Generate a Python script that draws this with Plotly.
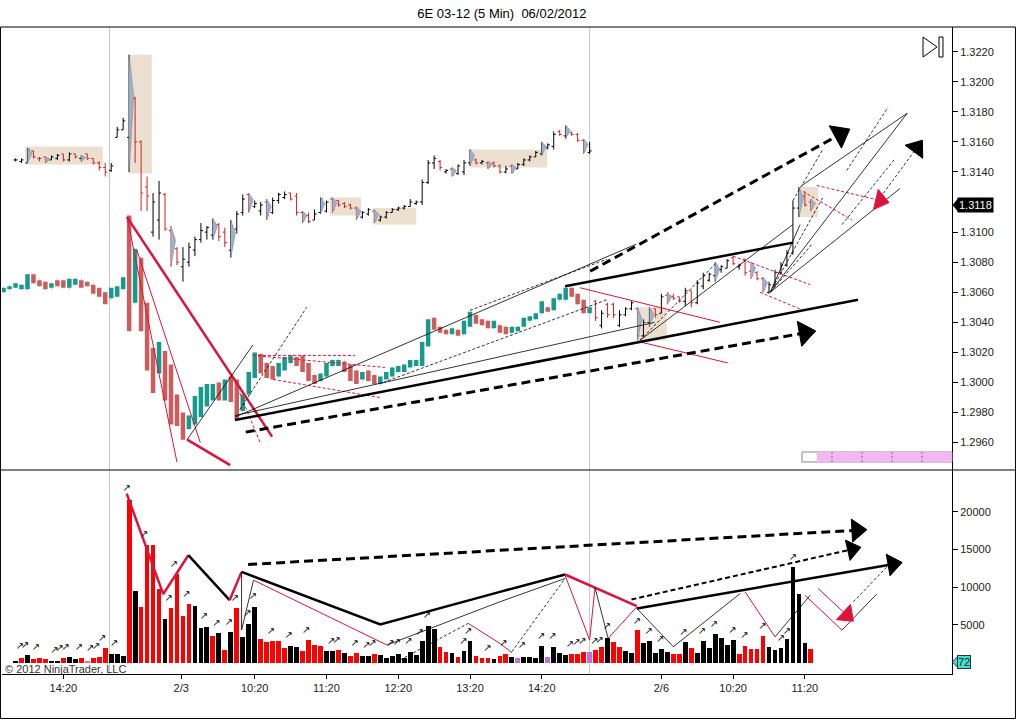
import plotly.graph_objects as go

# x = bar number (5 min bars), 0 = first volume bar on the chart
tick_pos = [8, 27.7, 40, 52, 64, 76, 88, 108, 120, 132]
tick_text = ["14:20", "2/3", "10:20", "11:20", "12:20", "13:20", "14:20", "2/6", "10:20", "11:20"]
session_breaks = [15.7, 96.0]
# 1.3120 is hidden behind the last price marker
price_ticks = [1.2960, 1.2980, 1.3000, 1.3020, 1.3040, 1.3060, 1.3080, 1.3100,
               1.3140, 1.3160, 1.3180, 1.3200, 1.3220]
volume_ticks = [5000, 10000, 15000, 20000]
last_price = 1.3118
last_volume = 72

# upper overlay series (bars 0..96)
a_open = [1.3148, 1.3147, 1.3146, 1.3154, 1.3149, 1.3150, 1.3148, 1.3149, 1.3152, 1.3148,
          1.3152, 1.3149, 1.3152, 1.3149, 1.3146, 1.3143, 1.3141, 1.3163, 1.3168, 1.3163,
          1.3189, 1.3160, 1.3130, 1.3100, 1.3108, 1.3125, 1.3101, 1.3089, 1.3077, 1.3080,
          1.3088, 1.3095, 1.3100, 1.3098, 1.3105, 1.3100, 1.3088, 1.3102, 1.3113, 1.3125,
          1.3117, 1.3114, 1.3120, 1.3113, 1.3121, 1.3123, 1.3126, 1.3124, 1.3113, 1.3111,
          1.3108, 1.3113, 1.3114, 1.3122, 1.3121, 1.3119, 1.3118, 1.3116, 1.3110, 1.3112,
          1.3114, 1.3108, 1.3110, 1.3113, 1.3115, 1.3116, 1.3117, 1.3119, 1.3120, 1.3133,
          1.3146, 1.3147, 1.3140, 1.3142, 1.3139, 1.3140, 1.3146, 1.3148, 1.3146, 1.3146,
          1.3146, 1.3144, 1.3140, 1.3144, 1.3142, 1.3145, 1.3148, 1.3150, 1.3152, 1.3156,
          1.3157, 1.3167, 1.3164, 1.3166, 1.3165, 1.3161, 1.3153]
a_high = [1.3149, 1.3149, 1.3156, 1.3154, 1.3150, 1.3150, 1.3151, 1.3152, 1.3152, 1.3153,
          1.3152, 1.3151, 1.3152, 1.3149, 1.3147, 1.3146, 1.3146, 1.3170, 1.3176, 1.3218,
          1.3190, 1.3161, 1.3137, 1.3126, 1.3134, 1.3126, 1.3104, 1.3090, 1.3090, 1.3093,
          1.3097, 1.3106, 1.3104, 1.3109, 1.3106, 1.3103, 1.3108, 1.3114, 1.3125, 1.3126,
          1.3121, 1.3120, 1.3122, 1.3123, 1.3126, 1.3127, 1.3126, 1.3126, 1.3114, 1.3113,
          1.3115, 1.3123, 1.3121, 1.3123, 1.3121, 1.3120, 1.3119, 1.3117, 1.3114, 1.3116,
          1.3115, 1.3111, 1.3114, 1.3116, 1.3117, 1.3118, 1.3122, 1.3121, 1.3135, 1.3148,
          1.3151, 1.3148, 1.3142, 1.3143, 1.3145, 1.3148, 1.3155, 1.3149, 1.3148, 1.3147,
          1.3147, 1.3145, 1.3144, 1.3145, 1.3146, 1.3149, 1.3151, 1.3154, 1.3160, 1.3159,
          1.3167, 1.3168, 1.3171, 1.3167, 1.3166, 1.3162, 1.3160]
a_low = [1.3147, 1.3146, 1.3146, 1.3149, 1.3147, 1.3146, 1.3148, 1.3148, 1.3147, 1.3147,
         1.3149, 1.3147, 1.3148, 1.3145, 1.3141, 1.3137, 1.3140, 1.3163, 1.3168, 1.3140,
         1.3146, 1.3114, 1.3114, 1.3097, 1.3095, 1.3101, 1.3077, 1.3078, 1.3067, 1.3077,
         1.3084, 1.3093, 1.3095, 1.3095, 1.3094, 1.3090, 1.3083, 1.3099, 1.3111, 1.3113,
         1.3116, 1.3111, 1.3108, 1.3112, 1.3119, 1.3122, 1.3121, 1.3111, 1.3106, 1.3106,
         1.3108, 1.3112, 1.3113, 1.3113, 1.3117, 1.3116, 1.3115, 1.3108, 1.3109, 1.3111,
         1.3106, 1.3107, 1.3109, 1.3113, 1.3114, 1.3115, 1.3117, 1.3118, 1.3118, 1.3132,
         1.3142, 1.3141, 1.3139, 1.3137, 1.3138, 1.3138, 1.3144, 1.3145, 1.3145, 1.3142,
         1.3143, 1.3139, 1.3139, 1.3139, 1.3142, 1.3144, 1.3147, 1.3150, 1.3151, 1.3155,
         1.3155, 1.3164, 1.3162, 1.3164, 1.3160, 1.3152, 1.3152]
a_close = [1.3148, 1.3148, 1.3155, 1.3150, 1.3149, 1.3147, 1.3150, 1.3151, 1.3148, 1.3152,
           1.3150, 1.3150, 1.3149, 1.3146, 1.3143, 1.3140, 1.3144, 1.3168, 1.3174, 1.3190,
           1.3160, 1.3126, 1.3124, 1.3120, 1.3126, 1.3102, 1.3088, 1.3080, 1.3082, 1.3090,
           1.3095, 1.3101, 1.3103, 1.3106, 1.3097, 1.3093, 1.3104, 1.3112, 1.3122, 1.3116,
           1.3119, 1.3118, 1.3111, 1.3121, 1.3125, 1.3125, 1.3122, 1.3113, 1.3108, 1.3107,
           1.3112, 1.3122, 1.3120, 1.3115, 1.3118, 1.3117, 1.3116, 1.3110, 1.3113, 1.3115,
           1.3108, 1.3110, 1.3113, 1.3115, 1.3116, 1.3117, 1.3120, 1.3120, 1.3133, 1.3146,
           1.3149, 1.3143, 1.3141, 1.3138, 1.3144, 1.3146, 1.3152, 1.3146, 1.3147, 1.3143,
           1.3144, 1.3140, 1.3142, 1.3140, 1.3145, 1.3148, 1.3150, 1.3153, 1.3158, 1.3158,
           1.3165, 1.3165, 1.3169, 1.3165, 1.3161, 1.3154, 1.3154]

# lower series (bars -2..96)
b_open = [1.3061, 1.3062, 1.3064, 1.3063, 1.3062, 1.3071, 1.3068, 1.3066, 1.3063, 1.3068,
          1.3067, 1.3063, 1.3066, 1.3068, 1.3066, 1.3065, 1.3061, 1.3059, 1.3056, 1.3058,
          1.3063, 1.3070, 1.3053, 1.3083, 1.3045, 1.3020, 1.3008, 1.3020, 1.3005, 1.2990,
          1.2978, 1.2970, 1.2975, 1.2980, 1.2986, 1.2990, 1.2999, 1.2990, 1.3003, 1.3000,
          1.2981, 1.2992, 1.3004, 1.3018, 1.3012, 1.3010, 1.3004, 1.3009, 1.3013, 1.3017,
          1.3016, 1.3011, 1.3005, 1.3001, 1.3004, 1.3011, 1.3012, 1.3014, 1.3012, 1.3008,
          1.3002, 1.3007, 1.3004, 1.2999, 1.3002, 1.3004, 1.3007, 1.3008, 1.3010, 1.3012,
          1.3013, 1.3026, 1.3043, 1.3037, 1.3035, 1.3033, 1.3035, 1.3032, 1.3038, 1.3045,
          1.3041, 1.3040, 1.3037, 1.3038, 1.3036, 1.3033, 1.3034, 1.3037, 1.3041, 1.3043,
          1.3046, 1.3049, 1.3049, 1.3055, 1.3055, 1.3062, 1.3058, 1.3054, 1.3048]
b_high = [1.3063, 1.3064, 1.3066, 1.3065, 1.3072, 1.3072, 1.3068, 1.3067, 1.3066, 1.3068,
          1.3068, 1.3069, 1.3069, 1.3068, 1.3067, 1.3065, 1.3063, 1.3060, 1.3063, 1.3064,
          1.3070, 1.3111, 1.3089, 1.3083, 1.3053, 1.3023, 1.3027, 1.3021, 1.3012, 1.2992,
          1.2980, 1.2978, 1.2991, 1.2997, 1.2999, 1.2999, 1.3000, 1.3002, 1.3004, 1.3002,
          1.2992, 1.3007, 1.3020, 1.3019, 1.3013, 1.3011, 1.3013, 1.3017, 1.3018, 1.3017,
          1.3018, 1.3013, 1.3005, 1.3006, 1.3013, 1.3015, 1.3015, 1.3014, 1.3012, 1.3008,
          1.3007, 1.3008, 1.3005, 1.3004, 1.3007, 1.3010, 1.3011, 1.3012, 1.3015, 1.3015,
          1.3027, 1.3042, 1.3043, 1.3037, 1.3035, 1.3036, 1.3035, 1.3041, 1.3047, 1.3045,
          1.3042, 1.3041, 1.3041, 1.3038, 1.3037, 1.3037, 1.3037, 1.3043, 1.3044, 1.3046,
          1.3054, 1.3050, 1.3056, 1.3059, 1.3063, 1.3063, 1.3059, 1.3055, 1.3050]
b_low = [1.3060, 1.3062, 1.3063, 1.3062, 1.3062, 1.3066, 1.3064, 1.3062, 1.3063, 1.3064,
         1.3063, 1.3063, 1.3065, 1.3063, 1.3064, 1.3059, 1.3057, 1.3052, 1.3056, 1.3057,
         1.3062, 1.3034, 1.3053, 1.3034, 1.3008, 1.2993, 1.3006, 1.2988, 1.2972, 1.2971,
         1.2962, 1.2969, 1.2972, 1.2977, 1.2984, 1.2988, 1.2988, 1.2988, 1.2987, 1.2975,
         1.2981, 1.2992, 1.3003, 1.3006, 1.3003, 1.3002, 1.3004, 1.3008, 1.3013, 1.3011,
         1.3007, 1.3001, 1.2999, 1.3001, 1.3004, 1.3011, 1.3011, 1.3007, 1.3001, 1.2999,
         1.3002, 1.3001, 1.2999, 1.2999, 1.3002, 1.3004, 1.3007, 1.3007, 1.3010, 1.3011,
         1.3011, 1.3024, 1.3035, 1.3033, 1.3032, 1.3032, 1.3031, 1.3032, 1.3037, 1.3039,
         1.3038, 1.3036, 1.3036, 1.3033, 1.3032, 1.3033, 1.3034, 1.3037, 1.3041, 1.3042,
         1.3046, 1.3047, 1.3048, 1.3055, 1.3055, 1.3057, 1.3052, 1.3046, 1.3046]
b_close = [1.3062, 1.3064, 1.3065, 1.3064, 1.3071, 1.3067, 1.3065, 1.3063, 1.3065, 1.3065,
           1.3064, 1.3068, 1.3068, 1.3064, 1.3065, 1.3060, 1.3058, 1.3054, 1.3061, 1.3062,
           1.3069, 1.3053, 1.3086, 1.3040, 1.3012, 1.2996, 1.3024, 1.2992, 1.2978, 1.2975,
           1.2968, 1.2977, 1.2988, 1.2995, 1.2997, 1.2998, 1.2990, 1.3000, 1.2990, 1.2980,
           1.2990, 1.3005, 1.3018, 1.3008, 1.3005, 1.3004, 1.3011, 1.3015, 1.3017, 1.3012,
           1.3009, 1.3003, 1.3001, 1.3005, 1.3011, 1.3014, 1.3015, 1.3008, 1.3003, 1.3001,
           1.3006, 1.3002, 1.3000, 1.3003, 1.3006, 1.3009, 1.3010, 1.3011, 1.3014, 1.3014,
           1.3026, 1.3040, 1.3037, 1.3034, 1.3033, 1.3035, 1.3032, 1.3040, 1.3046, 1.3040,
           1.3039, 1.3037, 1.3040, 1.3034, 1.3033, 1.3036, 1.3036, 1.3042, 1.3043, 1.3045,
           1.3052, 1.3049, 1.3055, 1.3058, 1.3062, 1.3058, 1.3053, 1.3047, 1.3048]

# right hand bars (97..133)
c_open = [1.3054, 1.3038, 1.3052, 1.3052, 1.3038, 1.3045, 1.3049, 1.3049, 1.3031, 1.3040,
          1.3049, 1.3046, 1.3058, 1.3057, 1.3057, 1.3054, 1.3061, 1.3053, 1.3064, 1.3068,
          1.3071, 1.3075, 1.3076, 1.3083, 1.3077, 1.3082, 1.3074, 1.3073, 1.3069, 1.3060,
          1.3065, 1.3073, 1.3078, 1.3086, 1.3116, 1.3124, 1.3120]
c_high = [1.3055, 1.3048, 1.3053, 1.3053, 1.3048, 1.3050, 1.3054, 1.3050, 1.3042, 1.3050,
          1.3049, 1.3059, 1.3060, 1.3059, 1.3057, 1.3063, 1.3061, 1.3068, 1.3073, 1.3073,
          1.3080, 1.3078, 1.3082, 1.3084, 1.3079, 1.3082, 1.3080, 1.3074, 1.3070, 1.3067,
          1.3075, 1.3080, 1.3088, 1.3121, 1.3130, 1.3127, 1.3122]
c_low = [1.3041, 1.3036, 1.3043, 1.3043, 1.3037, 1.3044, 1.3048, 1.3028, 1.3030, 1.3037,
         1.3043, 1.3046, 1.3052, 1.3055, 1.3053, 1.3051, 1.3050, 1.3052, 1.3062, 1.3067,
         1.3067, 1.3073, 1.3076, 1.3078, 1.3075, 1.3071, 1.3069, 1.3068, 1.3060, 1.3059,
         1.3064, 1.3072, 1.3077, 1.3085, 1.3110, 1.3117, 1.3114]
c_close = [1.3043, 1.3046, 1.3045, 1.3045, 1.3045, 1.3049, 1.3053, 1.3031, 1.3040, 1.3048,
           1.3045, 1.3057, 1.3054, 1.3056, 1.3054, 1.3061, 1.3053, 1.3066, 1.3071, 1.3072,
           1.3078, 1.3077, 1.3081, 1.3079, 1.3078, 1.3073, 1.3071, 1.3069, 1.3062, 1.3065,
           1.3073, 1.3078, 1.3086, 1.3116, 1.3121, 1.3118, 1.3118]

# bars with the blue shading flag
shaded_a = [2, 5, 11, 19, 26, 33, 36, 39, 42, 48, 51, 53, 57, 60, 73, 76, 79, 83, 88, 92, 95]
shaded_c = [104, 106, 109, 117, 123, 125, 131, 133]

# beige zones: bar from, bar to, price low, price high
tan_boxes = [(1.6, 14.6, 1.3145, 1.3157), (18.8, 22.8, 1.3139, 1.3218),
             (52.6, 57.8, 1.3111, 1.3123), (59.8, 67.0, 1.3105, 1.3116),
             (76.0, 88.9, 1.3143, 1.3155), (104.1, 108.9, 1.3028, 1.3050),
             (130.9, 134.2, 1.3110, 1.3130)]

volume = [260, 570, 970, 440, 570, 440, 100, 260, 570, 700,
          440, 570, 260, 570, 700, 1900, 1150, 1150, 840, 21600,
          9440, 7370, 15530, 15530, 9790, 5730, 7230, 11690, 6180, 7720,
          7450, 4590, 4680, 3530, 3880, 1630, 4010, 7230, 3350, 5070,
          7370, 3090, 2730, 2820, 2820, 1900, 2160, 2030, 1500, 2960,
          2290, 2160, 1500, 1500, 1630, 1235, 840, 1235, 840, 840,
          1100, 970, 570, 840, 1100, 570, 1370, 970, 2820, 4810,
          4410, 2030, 1370, 1235, 700, 1500, 2820, 840, 570, 570,
          440, 840, 1100, 700, 570, 700, 700, 570, 2160, 700,
          2030, 1235, 970, 1100, 1100, 1370, 1370, 1630, 2030, 3220,
          2690, 2030, 1500, 1235, 4280, 2560, 2820, 1235, 1760, 1370,
          1100, 1100, 2690, 1900, 1235, 2820, 1900, 3750, 3220, 2290,
          2960, 1100, 2160, 1760, 1760, 3490, 2030, 1630, 1900, 3090,
          12620, 9040, 2560, 1760]
volume_kind = ("krkrrrkkrk" "krprrrkkkr" "krrrrkrrrr" "kkkrkrkrkk" "krrrrrkkrr"
               "rrkkrkrrkk" "rkkkkkkkkk" "krrkrkkrrr" "krrkpkkkkp" "kkkrrrprrk"
               "rrkkrkkkkk" "rrkrkkkkkk" "krrrrrkkkk" "kkkr")

# little up-arrows printed over the volume bars
tag_x = [0.75, 1.6, 3.4, 6.5, 7.4, 8.4, 10.6, 12.5, 13.5, 14.5,
         16.5, 18.6, 21.5, 26.5, 25.6, 28.6, 31.5, 33.6, 35.7, 36.7,
         38.8, 39.7, 42.7, 45.7, 48.6, 52.8, 53.7, 56.7, 58.7, 59.7,
         62.7, 63.8, 65.7, 67.6, 68.8, 74.9, 75.7, 78.9, 81.6, 84.7,
         87.9, 89.8, 92.7, 93.8, 94.8, 96.8, 97.7, 98.9, 103.9, 105.9,
         107.8, 111.7, 114.8, 116.8, 119.9, 121.9, 124.9, 128.0, 129.0, 130.0]
tag_y = [2090, 2320, 1960, 1650, 1880, 1960, 1960, 1880, 2090, 3200,
         2540, 23050, 16970, 13000, 8500, 9070, 6060, 5190, 5270, 8500,
         6510, 8710, 4080, 3550, 4300, 2750, 2980, 2540, 2220, 2540,
         2540, 2620, 2750, 3940, 6190, 2750, 4170, 1880, 2540, 2320,
         3510, 3410, 2450, 2620, 2850, 2850, 2980, 4740, 5490, 4170,
         3070, 4000, 4080, 5100, 4300, 3550, 4830, 3200, 4170, 13920]

# drawn trend lines on the price panel: style, bars, prices
price_lines = [
    ("thick_red", [18.65, 42.9], [1.3110, 1.2964]),
    ("thick_red", [28.7, 35.9], [1.2962, 1.2945]),
    ("thin_red", [18.65, 27.0], [1.3110, 1.2947]),
    ("thin_red", [20.3, 30.9], [1.3088, 1.2960]),
    ("thin_red", [94.4, 117.8], [1.3063, 1.3040]),
    ("thin_red", [104.4, 119.1], [1.3027, 1.3013]),
    ("red_dash", [37.5, 40.9], [1.2993, 1.2960]),
    ("red_dash", [39.7, 56.8], [1.3018, 1.3018]),
    ("red_dash", [39.7, 61.8], [1.3018, 1.3010]),
    ("red_dash", [43.1, 60.9], [1.3002, 1.2990]),
    ("red_dash", [120.0, 132.9], [1.3084, 1.3065]),
    ("red_dash", [124.5, 131.7], [1.3060, 1.3048]),
    ("red_dash", [131.7, 139.9], [1.3127, 1.3108]),
    ("red_dash", [134.0, 144.6], [1.3131, 1.3121]),
    ("thin_black", [28.7, 39.7], [1.2962, 1.3025]),
    ("thin_black", [36.7, 103.8], [1.2977, 1.3092]),
    ("thin_black", [36.7, 106.9], [1.2978, 1.3040]),
    ("thin_black", [104.4, 130.0], [1.3028, 1.3105]),
    ("thin_black", [126.2, 149.1], [1.3060, 1.3179]),
    ("thin_black", [126.2, 147.9], [1.3060, 1.3129]),
    ("thin_black", [126.2, 131.2], [1.3060, 1.3105]),
    ("thin_black", [131.5, 149.1], [1.3131, 1.3179]),
    ("black_dash", [37.5, 48.7], [1.2982, 1.3050]),
    ("black_dash", [61.5, 98.9], [1.3000, 1.3055]),
    ("black_dash", [76.0, 98.9], [1.3048, 1.3082]),
    ("black_dash", [104.4, 117.3], [1.3028, 1.3080]),
    ("black_dash", [126.2, 135.0], [1.3060, 1.3123]),
    ("black_dash", [126.2, 133.2], [1.3060, 1.3092]),
    ("black_dash", [130.0, 135.0], [1.3121, 1.3155]),
    ("black_dash", [139.0, 145.9], [1.3141, 1.3183]),
    ("black_dash", [138.2, 147.1], [1.3105, 1.3149]),
    ("black_dash", [144.6, 150.7], [1.3123, 1.3156]),
    ("thick_black", [36.7, 140.9], [1.2975, 1.3055]),
    ("thick_black", [91.9, 130.0], [1.3064, 1.3093]),
    ("thick_black_dash", [38.5, 132.0], [1.2967, 1.3033]),
    ("thick_black_dash", [96.1, 137.9], [1.3074, 1.3165]),
]
price_heads = [
    ("black", 22, [38.5, 132.0], [1.2967, 1.3033]),
    ("black", 22, [96.1, 137.9], [1.3074, 1.3165]),
    ("#dc143c", 18, [134.0, 144.6], [1.3131, 1.3121]),
    ("black", 19, [144.6, 150.7], [1.3123, 1.3156]),
]

# drawn lines on the volume panel: style, bars, volume
volume_lines = [
    ("thick_red", [18.6, 24.7, 28.9], [22390, 9070, 14230]),
    ("thick_black", [28.9, 35.8], [14230, 8270]),
    ("thick_red", [35.8, 37.8], [8270, 12020]),
    ("thick_black", [37.8, 61.0, 81.0, 91.9], [12020, 5060, 9370, 11670]),
    ("thick_red", [91.9, 103.9], [11670, 7480]),
    ("thick_black", [103.9, 146.7], [7170, 13040]),
    ("thin_black", [37.8, 37.8, 39.8], [12020, 4300, 10920]),
    ("thin_red", [39.8, 62.1], [10920, 2320]),
    ("thin_black", [62.1, 81.0, 91.9], [2320, 8050, 11140]),
    ("black_dash", [64.3, 75.7], [330, 5190]),
    ("thin_red", [75.7, 81.0, 83.0], [5190, 2540, 1300]),
    ("black_dash", [83.0, 91.9], [1430, 11140]),
    ("thin_red", [91.9, 96.0, 96.9], [11580, 2980, 9950]),
    ("thin_black", [96.9, 99.1], [9950, 3200]),
    ("thin_red", [99.1, 103.9], [3200, 7380]),
    ("thin_black", [103.9, 110.0, 121.2], [7170, 2090, 9160]),
    ("thin_red", [122.0, 127.0], [9370, 3410]),
    ("thin_black", [127.0, 132.9], [3410, 8930]),
    ("thin_red", [132.0, 138.2], [8930, 4300]),
    ("thin_black", [138.2, 144.0], [4300, 9070]),
    ("thin_red", [134.2, 139.0], [9820, 6290]),
    ("black_dash", [140.1, 146.8], [8050, 13570]),
    ("thick_black_dash", [38.9, 140.7], [13000, 17540]),
    ("mid_black_dash", [103.0, 139.9], [8360, 15020]),
]
volume_heads = [
    ("black", 19, [103.9, 146.7], [7170, 13040]),
    ("black", 20, [38.9, 140.7], [13000, 17540]),
    ("black", 18, [103.0, 139.9], [8360, 15020]),
    ("#dc143c", 18, [134.2, 139.0], [9820, 6290]),
]

styles = {
    "thick_red": dict(color="#dc143c", width=2.5),
    "thin_red": dict(color="#dc143c", width=1),
    "red_dash": dict(color="#dc143c", width=1, dash="3px,2px"),
    "thick_black": dict(color="black", width=2.5),
    "thin_black": dict(color="black", width=0.8),
    "black_dash": dict(color="black", width=0.8, dash="3px,2px"),
    "mid_black_dash": dict(color="black", width=2, dash="5px,3px"),
    "thick_black_dash": dict(color="black", width=3, dash="9px,5px"),
}
kind_colors = {"k": "black", "r": "#ff0000", "p": "#c070d8"}

fig = go.Figure()

# blue flags behind the bars
def flags(idx, first, high, low):
    xs, ys = [], []
    for i in idx:
        h, l = high[i - first], low[i - first]
        xs += [i, i + 0.75, i, None]
        ys += [h, h - 0.35 * (h - l), l, None]
    return xs, ys

for idx, first, hi, lo in [(shaded_a, 0, a_high, a_low), (shaded_c, 97, c_high, c_low)]:
    fx, fy = flags(idx, first, hi, lo)
    fig.add_trace(go.Scatter(x=fx, y=fy, mode="lines", fill="toself", fillcolor="#9db3cc",
                             line=dict(color="#6f89a8", width=0.6), hoverinfo="skip",
                             xaxis="x", yaxis="y"))

fig.add_trace(go.Ohlc(x=list(range(-2, 97)), open=b_open, high=b_high, low=b_low, close=b_close,
                      increasing=dict(line=dict(color="#17998b", width=4.5)),
                      decreasing=dict(line=dict(color="#cd5c5c", width=4.5)),
                      tickwidth=0.05, hoverinfo="skip", xaxis="x", yaxis="y"))
fig.add_trace(go.Ohlc(x=list(range(0, 97)), open=a_open, high=a_high, low=a_low, close=a_close,
                      increasing=dict(line=dict(color="black", width=1)),
                      decreasing=dict(line=dict(color="#d42020", width=1)),
                      tickwidth=0.35, hoverinfo="skip", xaxis="x", yaxis="y"))
fig.add_trace(go.Ohlc(x=list(range(97, 134)), open=c_open, high=c_high, low=c_low, close=c_close,
                      increasing=dict(line=dict(color="black", width=1)),
                      decreasing=dict(line=dict(color="#d42020", width=1)),
                      tickwidth=0.35, hoverinfo="skip", xaxis="x", yaxis="y"))

for style, xs, ys in price_lines:
    fig.add_trace(go.Scatter(x=xs, y=ys, mode="lines", line=styles[style],
                             hoverinfo="skip", xaxis="x", yaxis="y"))
for color, size, xs, ys in price_heads:
    fig.add_trace(go.Scatter(x=xs, y=ys, mode="markers",
                             marker=dict(symbol="triangle-up", size=[0, size], color=color,
                                         opacity=1, angleref="previous",
                                         line=dict(color=color, width=1)),
                             hoverinfo="skip", xaxis="x", yaxis="y"))

fig.add_trace(go.Bar(x=list(range(len(volume))), y=volume, width=0.8,
                     marker=dict(color=[kind_colors[k] for k in volume_kind], line=dict(width=0)),
                     hoverinfo="skip", xaxis="x2", yaxis="y2"))

for style, xs, ys in volume_lines:
    fig.add_trace(go.Scatter(x=xs, y=ys, mode="lines", line=styles[style],
                             hoverinfo="skip", xaxis="x2", yaxis="y2"))
for color, size, xs, ys in volume_heads:
    fig.add_trace(go.Scatter(x=xs, y=ys, mode="markers",
                             marker=dict(symbol="triangle-up", size=[0, size], color=color,
                                         opacity=1, angleref="previous",
                                         line=dict(color=color, width=1)),
                             hoverinfo="skip", xaxis="x2", yaxis="y2"))

fig.add_trace(go.Scatter(x=tag_x, y=tag_y, mode="text", text=["\u2197\ufe0e"] * len(tag_x),
                         textfont=dict(family="DejaVu Sans", size=10, color="black"),
                         hoverinfo="skip", xaxis="x2", yaxis="y2"))

shapes = []
for x0, x1, y0, y1 in tan_boxes:
    shapes.append(dict(type="rect", xref="x", yref="y", x0=x0, x1=x1, y0=y0, y1=y1,
                       fillcolor="#ebdfcf", line=dict(width=0), layer="below"))
for xb in session_breaks:
    shapes.append(dict(type="line", xref="x", yref="paper", x0=xb, x1=xb, y0=0, y1=1,
                       line=dict(color="#c4c4c4", width=1), layer="below"))

# frame, panel divider and the NinjaTrader widgets
shapes += [
    dict(type="rect", xref="paper", yref="paper", x0=-0.0016, x1=1.0668, y0=-0.0688, y1=1.0,
         line=dict(color="black", width=1)),
    dict(type="line", xref="paper", yref="paper", x0=-0.0016, x1=1.0668, y0=0.3153, y1=0.3153,
         line=dict(color="black", width=1)),
    dict(type="rect", xref="paper", yref="paper", x0=0.8421, x1=1.0, y0=0.3277, y1=0.3431,
         fillcolor="white", line=dict(color="#888888", width=1)),
    dict(type="rect", xref="paper", yref="paper", x0=0.8579, x1=1.0, y0=0.3277, y1=0.3431,
         fillcolor="#f3b8f3", line=dict(width=0)),
    dict(type="path", xref="paper", yref="paper",
         path="M 0.9695 0.9845 L 0.9842 0.9691 L 0.9695 0.9536 Z",
         fillcolor="white", line=dict(color="black", width=1)),
    dict(type="rect", xref="paper", yref="paper", x0=0.9863, x1=0.9905, y0=0.9536, y1=0.9845,
         fillcolor="white", line=dict(color="black", width=1)),
    dict(type="path", xref="paper", yref="y",
         path=f"M 1.0005 {last_price} L 1.0063 {last_price + 0.00043} L 1.0063 {last_price - 0.00043} Z",
         fillcolor="black", line=dict(width=0)),
    dict(type="path", xref="paper", yref="y2",
         path=f"M 1.0005 {last_volume} L 1.0063 {last_volume + 760} L 1.0063 {last_volume - 760} Z",
         fillcolor="#40e0d0", line=dict(color="#333333", width=1)),
]
for xd in [0.8737, 0.9053, 0.9368, 0.9684]:
    shapes.append(dict(type="line", xref="paper", yref="paper", x0=xd, x1=xd, y0=0.3277, y1=0.3431,
                       line=dict(color="#777777", width=1, dash="2px,2px")))

annotations = [
    dict(xref="paper", yref="y", x=1.0, y=last_price, xanchor="left", xshift=5,
         text=f"{last_price:.4f}", showarrow=False, bgcolor="black", borderpad=1,
         font=dict(color="white", size=11)),
    dict(xref="paper", yref="y2", x=1.0, y=last_volume, xanchor="left", xshift=5,
         text=str(last_volume), showarrow=False, bgcolor="#40e0d0", bordercolor="#333333",
         borderwidth=1, borderpad=0, font=dict(color="#222222", size=11)),
    dict(xref="paper", yref="paper", x=0.001, y=0.0085, xanchor="left", yanchor="middle",
         text="\u00a9 2012 NinjaTrader, LLC", showarrow=False,
         font=dict(color="#333333", size=11)),
]

x_range = [-2.26, 156.6]
fig.update_layout(
    width=1016, height=720,
    margin=dict(l=2, r=64, t=27, b=46),
    paper_bgcolor="white", plot_bgcolor="white",
    font=dict(family="Liberation Sans, Arial, sans-serif", size=11, color="#222222"),
    title=dict(text="6E 03-12 (5 Min)\u00a0\u00a006/02/2012", x=0.494, xanchor="center",
               y=0.982, yanchor="middle", font=dict(size=13, color="black")),
    showlegend=False,
    bargap=0,
    xaxis=dict(domain=[0, 1], anchor="y", range=x_range, showticklabels=False, showgrid=False,
               zeroline=False, rangeslider=dict(visible=False), matches="x2"),
    xaxis2=dict(domain=[0, 1], anchor="y2", range=x_range, tickvals=tick_pos, ticktext=tick_text,
                ticks="outside", ticklen=4, tickcolor="black", showline=True, linecolor="black",
                showgrid=False, zeroline=False, rangeslider=dict(visible=False)),
    yaxis=dict(domain=[0.3153, 1], anchor="x", side="right", range=[1.29418, 1.32364],
               tickvals=price_ticks, ticktext=[f"{v:.4f}" for v in price_ticks],
               ticks="outside", ticklen=5, tickcolor="black", showline=True, linecolor="black",
               showgrid=False, zeroline=False),
    yaxis2=dict(domain=[0, 0.3153], anchor="x2", side="right", range=[-1525, 25530],
                tickvals=volume_ticks, ticktext=[str(v) for v in volume_ticks],
                ticks="outside", ticklen=5, tickcolor="black",
                showline=True, linecolor="black", showgrid=False, zeroline=False),
    shapes=shapes,
    annotations=annotations,
)

# the page body has a default 8px margin, drop it so the figure sits at the corner
fig.write_html("out.html", config={"displayModeBar": False},
               post_script="document.body.style.margin='0';")
